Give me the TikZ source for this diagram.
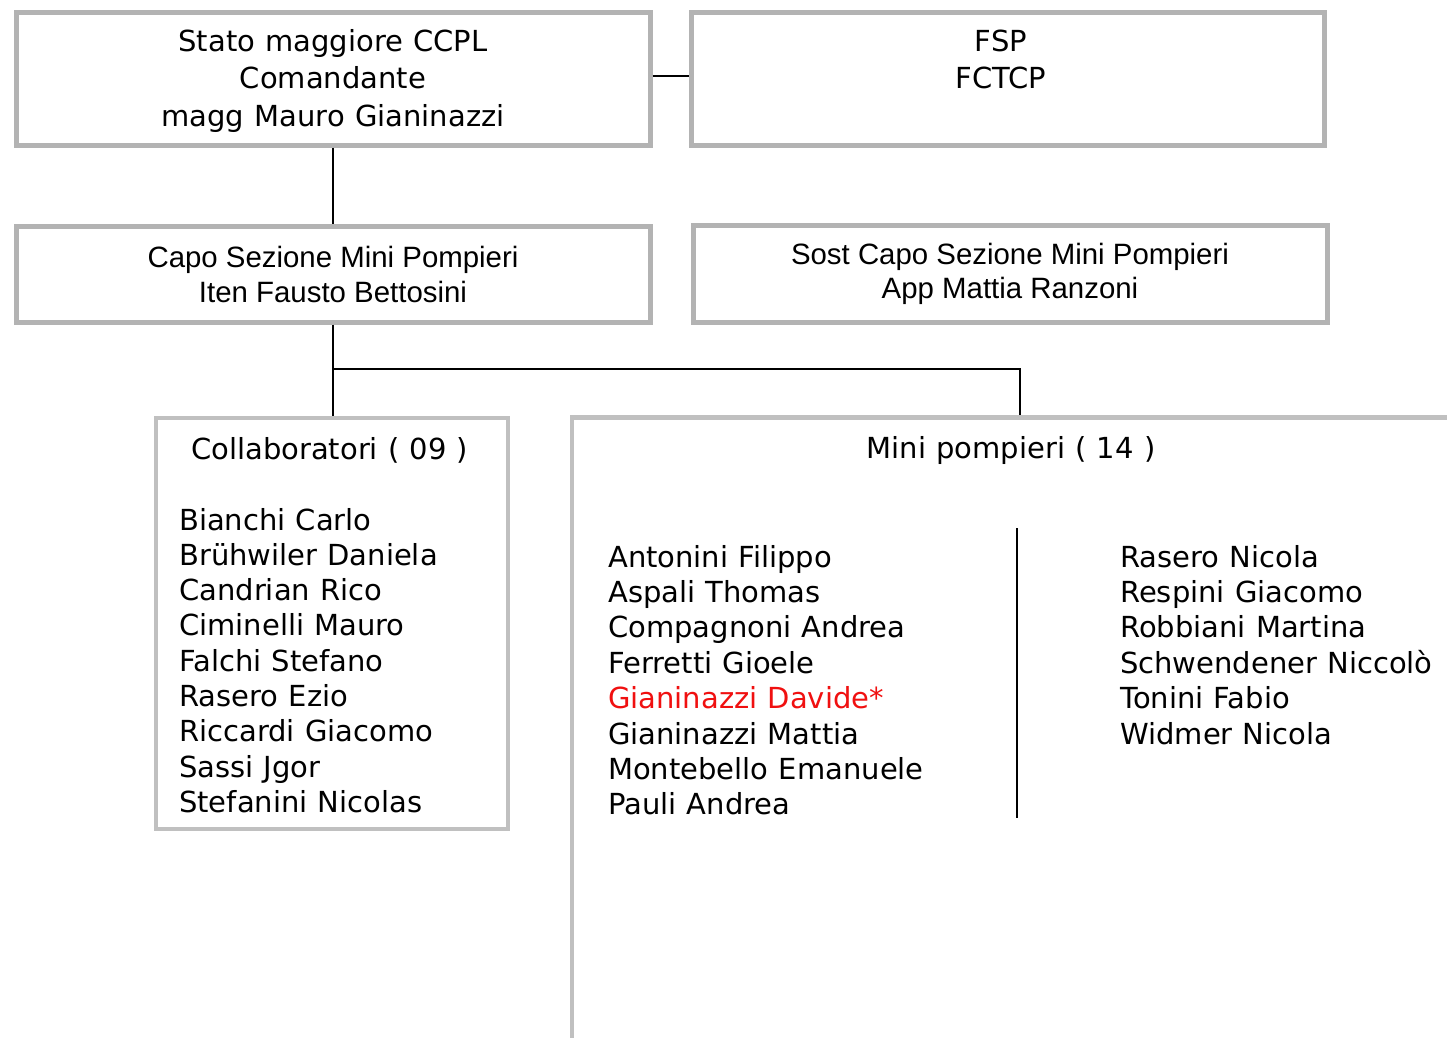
\documentclass[tikz,border=0pt]{standalone}
\usepackage{fontspec}
\setmainfont[WordSpace=1.11]{DejaVu Sans}
\newfontfamily\arialf{Liberation Sans}
\definecolor{boxgray}{HTML}{B3B3B3}
\definecolor{boxgraylight}{HTML}{C0C0C0}
\definecolor{namered}{HTML}{F01010}
\begin{document}
\begin{tikzpicture}[x=1pt,y=-1pt,
  topbox/.style={draw=boxgray, line width=5pt, rectangle, inner sep=0pt},
  lowbox/.style={draw=boxgraylight, line width=4.5pt, rectangle, inner sep=0pt},
  conn/.style={draw=black, line width=1.6pt},
  vtxt/.style={inner sep=0pt, font=\fontsize{29}{35}\selectfont},
  atxt/.style={inner sep=0pt, font=\arialf\fontsize{29.4}{35}\selectfont},
]
\clip (0,0) rectangle (1447,1037);
\fill[white] (0,0) rectangle (1447,1037);

% boxes
\node[topbox, minimum width=634pt, minimum height=133pt] (b1) at (333,78.5) {};
\node[topbox, minimum width=633pt, minimum height=133pt] (b2) at (1007.5,78.5) {};
\node[topbox, minimum width=634pt, minimum height=96pt] (b3) at (333,274) {};
\node[topbox, minimum width=634pt, minimum height=97pt] (b4) at (1010,273.5) {};
\node[lowbox, minimum width=352pt, minimum height=411pt] (col) at (332,623.5) {};
\node[lowbox, minimum width=896pt, minimum height=632pt] (mini) at (1020,733.5) {};

% connectors
\draw[conn] ([yshift=2.5pt]b1.east) -- ([yshift=2.5pt]b2.west);
\draw[conn] (b1.south) -- (b3.north);
\draw[conn] (b3.south) -- (b3.south |- col.north);
\coordinate (split) at (333,369);
\draw[conn] (split) -| (mini.north);
\coordinate (dtop) at (1017,528);
\coordinate (dbot) at (1017,818);
\draw[conn] (dtop) -- (dbot);

% box texts
\node[vtxt, anchor=base] (t1a) at (333,51) {Stato maggiore CCPL};
\node[vtxt, anchor=base] (t1b) at (333,88) {Comandante};
\node[vtxt, anchor=base] (t1c) at (333,126) {magg Mauro Gianinazzi};
\node[vtxt, anchor=base] (t2a) at (1001,51) {FSP};
\node[vtxt, anchor=base] (t2b) at (1001,88) {FCTCP};
\node[atxt, anchor=base] (t3a) at (333,267) {Capo Sezione Mini Pompieri};
\node[atxt, anchor=base] (t3b) at (333,302) {Iten Fausto Bettosini};
\node[atxt, anchor=base] (t4a) at (1010,264) {Sost Capo Sezione Mini Pompieri};
\node[atxt, anchor=base] (t4b) at (1010,298) {App Mattia Ranzoni};

% collaboratori
\node[vtxt, anchor=base west] (ct) at (191,459) {Collaboratori ( 09 )};
\foreach \n [count=\i from 0] in {Bianchi Carlo, Brühwiler Daniela, Candrian Rico, Ciminelli Mauro, Falchi Stefano, Rasero Ezio, Riccardi Giacomo, Sassi Jgor, Stefanini Nicolas}
  \node[vtxt, anchor=base west] (c\i) at (179,530+35.3*\i) {\n};

% mini pompieri
\node[vtxt, anchor=base] (mt) at (1011,458) {Mini pompieri ( 14 )};
\foreach \n/\c [count=\i from 0] in {Antonini Filippo/black, Aspali Thomas/black, Compagnoni Andrea/black, Ferretti Gioele/black, Gianinazzi Davide*/namered, Gianinazzi Mattia/black, Montebello Emanuele/black, Pauli Andrea/black}
  \node[vtxt, anchor=base west, text=\c] (ml\i) at (608,567+35.4*\i) {\n};
\foreach \n [count=\i from 0] in {Rasero Nicola, Respini Giacomo, Robbiani Martina, Schwendener Niccolò, Tonini Fabio, Widmer Nicola}
  \node[vtxt, anchor=base west] (mr\i) at (1120,567+35.4*\i) {\n};
\end{tikzpicture}
\end{document}
